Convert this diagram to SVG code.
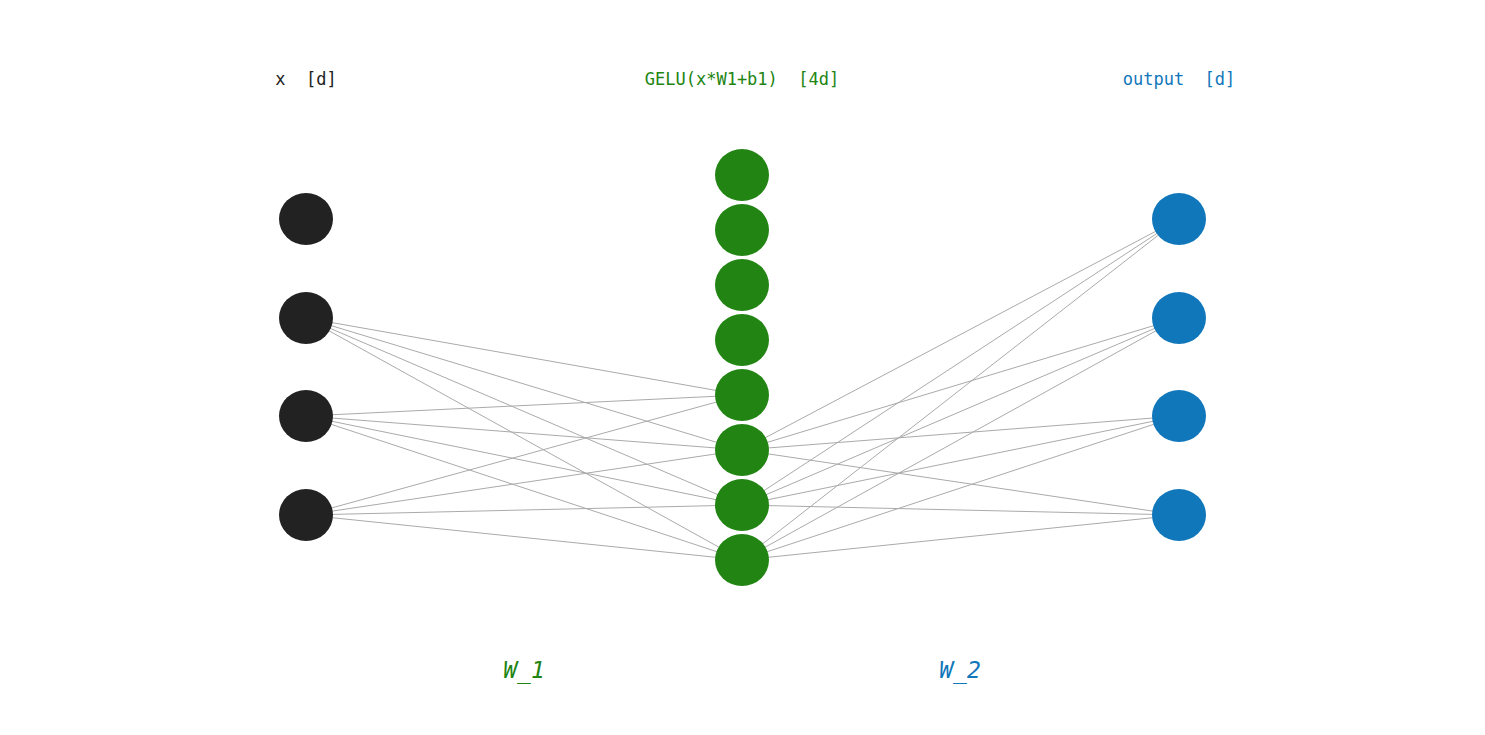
<svg xmlns="http://www.w3.org/2000/svg" width="1485" height="735" viewBox="0 0 1485 735">
<style>
.t{font-family:"DejaVu Sans Mono",monospace;font-size:17px;text-anchor:middle}
.w{font-family:"DejaVu Sans Mono",monospace;font-size:23px;font-style:italic;text-anchor:middle}
.e line{stroke:#aaa;stroke-width:1}
.k{fill:#222}.g{fill:#228513}.b{fill:#1177bb}
</style>
<rect width="1485" height="735" fill="#fff"/>
<g class="e" id="connectors">
<line x1="306" y1="318" x2="742" y2="395"/><line x1="306" y1="318" x2="742" y2="450"/><line x1="306" y1="318" x2="742" y2="505"/><line x1="306" y1="318" x2="742" y2="560"/>
<line x1="306" y1="416" x2="742" y2="395"/><line x1="306" y1="416" x2="742" y2="450"/><line x1="306" y1="416" x2="742" y2="505"/><line x1="306" y1="416" x2="742" y2="560"/>
<line x1="306" y1="515" x2="742" y2="395"/><line x1="306" y1="515" x2="742" y2="450"/><line x1="306" y1="515" x2="742" y2="505"/><line x1="306" y1="515" x2="742" y2="560"/>
<line x1="742" y1="450" x2="1179" y2="219"/><line x1="742" y1="450" x2="1179" y2="318"/><line x1="742" y1="450" x2="1179" y2="416"/><line x1="742" y1="450" x2="1179" y2="515"/>
<line x1="742" y1="505" x2="1179" y2="219"/><line x1="742" y1="505" x2="1179" y2="318"/><line x1="742" y1="505" x2="1179" y2="416"/><line x1="742" y1="505" x2="1179" y2="515"/>
<line x1="742" y1="560" x2="1179" y2="219"/><line x1="742" y1="560" x2="1179" y2="318"/><line x1="742" y1="560" x2="1179" y2="416"/><line x1="742" y1="560" x2="1179" y2="515"/>
</g>
<g id="in1"><ellipse class="k" cx="306" cy="219" rx="27" ry="26"/></g>
<g id="in2"><ellipse class="k" cx="306" cy="318" rx="27" ry="26"/></g>
<g id="in3"><ellipse class="k" cx="306" cy="416" rx="27" ry="26"/></g>
<g id="in4"><ellipse class="k" cx="306" cy="515" rx="27" ry="26"/></g>
<g id="h1"><ellipse class="g" cx="742" cy="175" rx="27" ry="26"/></g>
<g id="h2"><ellipse class="g" cx="742" cy="230" rx="27" ry="26"/></g>
<g id="h3"><ellipse class="g" cx="742" cy="285" rx="27" ry="26"/></g>
<g id="h4"><ellipse class="g" cx="742" cy="340" rx="27" ry="26"/></g>
<g id="h5"><ellipse class="g" cx="742" cy="395" rx="27" ry="26"/></g>
<g id="h6"><ellipse class="g" cx="742" cy="450" rx="27" ry="26"/></g>
<g id="h7"><ellipse class="g" cx="742" cy="505" rx="27" ry="26"/></g>
<g id="h8"><ellipse class="g" cx="742" cy="560" rx="27" ry="26"/></g>
<g id="o1"><ellipse class="b" cx="1179" cy="219" rx="27" ry="26"/></g>
<g id="o2"><ellipse class="b" cx="1179" cy="318" rx="27" ry="26"/></g>
<g id="o3"><ellipse class="b" cx="1179" cy="416" rx="27" ry="26"/></g>
<g id="o4"><ellipse class="b" cx="1179" cy="515" rx="27" ry="26"/></g>
<text class="t" x="306" y="85" fill="#222" xml:space="preserve">x  [d]</text>
<text class="t" x="742" y="85" fill="#228513" xml:space="preserve">GELU(x*W1+b1)  [4d]</text>
<text class="t" x="1179" y="85" fill="#1177bb" xml:space="preserve">output  [d]</text>
<text class="w" x="524" y="678" fill="#228513">W_1</text>
<text class="w" x="960" y="678" fill="#1177bb">W_2</text>
</svg>
